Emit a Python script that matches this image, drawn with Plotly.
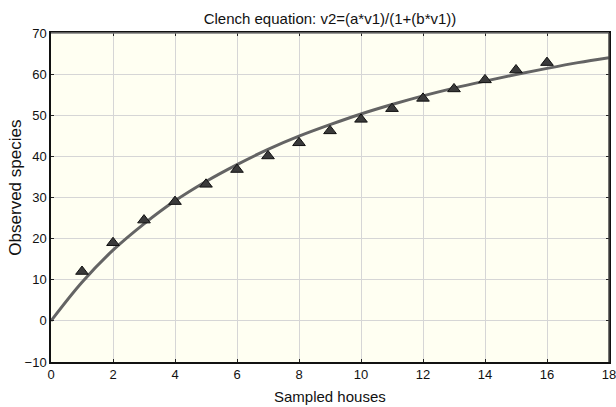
import plotly.graph_objects as go

houses = [1, 2, 3, 4, 5, 6, 7, 8, 9, 10, 11, 12, 13, 14, 15, 16]
observed = [12.0, 19.0, 24.5, 29.0, 33.2, 36.8, 40.1, 43.3, 46.2, 49.0, 51.6, 54.1, 56.4, 58.6, 61.0, 62.8]

# Fitted Clench curve values
curve_x = [0, 1, 2, 3, 4, 5, 6, 7, 8, 9, 10, 11, 12, 13, 14, 15, 16, 17, 18]
curve_y = [0.0, 9.4, 17.2, 23.6, 29.2, 33.9, 38.0, 41.7, 44.9, 47.7, 50.3, 52.6, 54.7, 56.6, 58.3, 59.9, 61.4, 62.8, 64.0]

x_ticks = [0, 2, 4, 6, 8, 10, 12, 14, 16, 18]
y_ticks = [-10, 0, 10, 20, 30, 40, 50, 60, 70]
y_tick_text = ["\u221210", "0", "10", "20", "30", "40", "50", "60", "70"]

fig = go.Figure()
fig.add_trace(go.Scatter(
    x=curve_x, y=curve_y, mode="lines", line=dict(color="#646464", width=3, shape="spline"),
    hoverinfo="skip", showlegend=False))
fig.add_trace(go.Scatter(
    x=houses, y=observed, mode="markers",
    marker=dict(symbol="triangle-up", size=11, color="#3a3a3a", line=dict(color="#111111", width=1)),
    showlegend=False, cliponaxis=False))

font_family = "Liberation Sans, Arial, Helvetica, sans-serif"
fig.update_layout(
    width=616, height=407,
    margin=dict(l=51, r=7, t=33, b=45),
    paper_bgcolor="white", plot_bgcolor="#FFFFF2",
    font=dict(family=font_family, size=13, color="#111111"),
    title=dict(text="Clench equation: v2=(a*v1)/(1+(b*v1))", x=0.5, xanchor="center",
               xref="paper", y=0.953, yanchor="middle", font=dict(size=15)),
)
fig.update_xaxes(
    range=[0, 18], tickvals=x_ticks, ticks="inside", ticklen=3, tickcolor="#222",
    showgrid=True, gridcolor="#d6d6d6", gridwidth=1, zeroline=False,
    showline=True, linecolor="#111", linewidth=1.5, mirror="ticks",
    automargin=False, ticklabeloverflow="allow", tickfont=dict(size=13))
fig.update_yaxes(
    range=[-10, 70], tickvals=y_ticks, ticktext=y_tick_text, ticks="inside", ticklen=3, tickcolor="#222",
    showgrid=True, gridcolor="#d6d6d6", gridwidth=1, zeroline=False,
    showline=True, linecolor="#111", linewidth=1.5, mirror="ticks",
    automargin=False, ticklabeloverflow="allow", tickfont=dict(size=13))
# axis titles
fig.add_annotation(text="Sampled houses", xref="paper", yref="paper", x=0.5, y=-0.1055,
                   xanchor="center", yanchor="middle", showarrow=False, font=dict(size=15))
fig.add_annotation(text="Observed species", xref="paper", yref="paper", x=-0.0627, y=0.53,
                   xanchor="center", yanchor="middle", textangle=-90, showarrow=False, font=dict(size=17))
# lighter top border, darker right border
fig.add_shape(type="line", xref="paper", yref="paper", x0=0, x1=1, y0=1, y1=1,
              line=dict(color="#7a7a7a", width=1.5), layer="above")
fig.add_shape(type="line", xref="paper", yref="paper", x0=1, x1=1, y0=0, y1=1,
              line=dict(color="#444444", width=1.5), layer="above")
fig.write_html("out.html", config={"displayModeBar": False},
               post_script="document.body.style.margin='0';")
